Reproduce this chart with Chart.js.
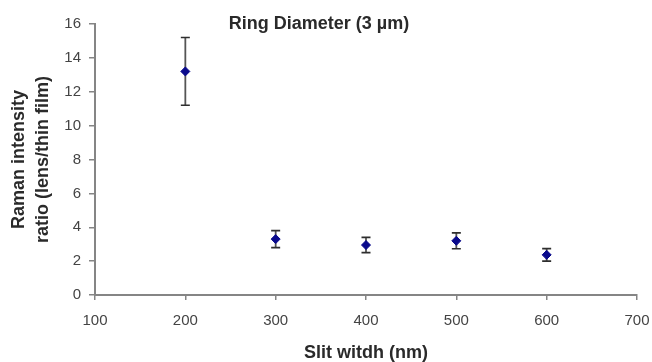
<!DOCTYPE html>
<html>
<head>
<meta charset="utf-8">
<script src="https://cdn.jsdelivr.net/npm/chart.js@4/dist/chart.umd.min.js"></script>
<style>
  html, body { margin: 0; padding: 0; background: #fff; }
  #wrap { width: 652px; height: 362px; position: relative; }
</style>
</head>
<body>
<div id="wrap"><canvas id="c"></canvas></div>
<script>
// Slit width (nm) and Raman intensity ratio with symmetric error
const slitWidths = [200, 300, 400, 500, 600];
const ramanRatio = [13.2, 3.3, 2.95, 3.2, 2.37];
const ratioError = [2.0, 0.5, 0.45, 0.47, 0.37];
const xTicks = [100, 200, 300, 400, 500, 600, 700];
const yTicks = [0, 2, 4, 6, 8, 10, 12, 14, 16];
const chartTitle = 'Ring Diameter (3 µm)';
const xTitle = 'Slit witdh (nm)';
const yTitle = ['Raman intensity', 'ratio (lens/thin film)'];

const FONT = '"Liberation Sans", Arial, sans-serif';
const AXIS_GREY = '#858585';

// Vertical error bars with caps, drawn behind the markers
const errorBars = {
  id: 'errorBars',
  beforeDatasetsDraw(chart) {
    const { ctx, scales: { x, y } } = chart;
    ctx.save();
    slitWidths.forEach((sw, i) => {
      const px = x.getPixelForValue(sw);
      const top = y.getPixelForValue(ramanRatio[i] + ratioError[i]);
      const bot = y.getPixelForValue(ramanRatio[i] - ratioError[i]);
      ctx.strokeStyle = '#555555';
      ctx.lineWidth = 1.8;
      ctx.beginPath();
      ctx.moveTo(px, top);
      ctx.lineTo(px, bot);
      ctx.stroke();
      ctx.strokeStyle = '#2e2e2e';
      ctx.lineWidth = 1.6;
      ctx.beginPath();
      ctx.moveTo(px - 4.5, top);
      ctx.lineTo(px + 4.5, top);
      ctx.moveTo(px - 4.5, bot);
      ctx.lineTo(px + 4.5, bot);
      ctx.stroke();
    });
    ctx.restore();
  }
};

// Title placed inside the plot area
const innerTitle = {
  id: 'innerTitle',
  afterDraw(chart) {
    const { ctx, chartArea } = chart;
    ctx.save();
    ctx.font = 'bold 18px ' + FONT;
    ctx.fillStyle = '#2a2a2a';
    ctx.textAlign = 'center';
    ctx.textBaseline = 'middle';
    ctx.fillText(chartTitle, chart.scales.x.getPixelForValue(348), chartArea.top);
    ctx.restore();
  }
};

new Chart(document.getElementById('c'), {
  type: 'scatter',
  data: {
    datasets: [{
      data: slitWidths.map((sw, i) => ({ x: sw, y: ramanRatio[i] })),
      pointStyle: 'rectRot',
      pointRadius: 4.5,
      pointHoverRadius: 4.5,
      backgroundColor: '#0a0a8c',
      borderColor: '#0a0a8c',
      borderWidth: 1
    }]
  },
  options: {
    responsive: true,
    maintainAspectRatio: false,
    animation: false,
    events: [],
    layout: { padding: { left: 0, right: 15, top: 24, bottom: 0 } },
    plugins: {
      legend: { display: false },
      tooltip: { enabled: false },
      title: { display: false }
    },
    scales: {
      x: {
        type: 'linear',
        min: 100,
        max: 700,
        afterBuildTicks(scale) { scale.ticks = xTicks.map(v => ({ value: v })); },
        afterFit(scale) {
          scale.height = 67;
          scale.paddingLeft = 0;
          scale.paddingRight = 0;
        },
        border: { display: true, color: AXIS_GREY, width: 2 },
        grid: { drawOnChartArea: false, drawTicks: true, tickLength: 5, color: AXIS_GREY, lineWidth: 1.5 },
        ticks: { font: { family: FONT, size: 15 }, color: '#444444', padding: 12, maxRotation: 0 },
        title: {
          display: true,
          text: xTitle,
          font: { family: FONT, size: 18, weight: 'bold', lineHeight: 1.0 },
          color: '#2a2a2a',
          padding: { top: 4, bottom: 0 }
        }
      },
      y: {
        type: 'linear',
        min: 0,
        max: 16,
        afterBuildTicks(scale) { scale.ticks = yTicks.map(v => ({ value: v })); },
        afterFit(scale) { scale.width = 95; },
        border: { display: true, color: AXIS_GREY, width: 2 },
        grid: { drawOnChartArea: false, drawTicks: true, tickLength: 6, color: AXIS_GREY, lineWidth: 1.5 },
        ticks: { font: { family: FONT, size: 15 }, color: '#444444', padding: 8 },
        title: {
          display: true,
          text: yTitle,
          font: { family: FONT, size: 18, weight: 'bold', lineHeight: 1.33 },
          color: '#2a2a2a',
          padding: { top: 7, bottom: 0 }
        }
      }
    }
  },
  plugins: [errorBars, innerTitle]
});
</script>
</body>
</html>
